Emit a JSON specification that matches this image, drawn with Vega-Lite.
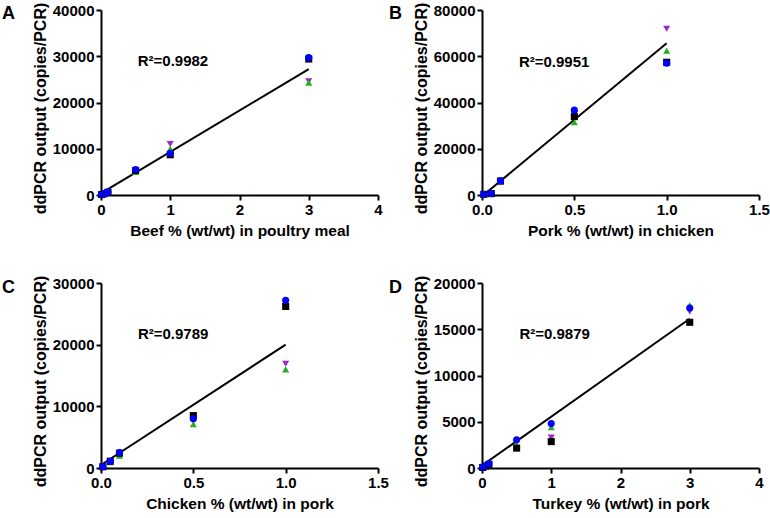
{
  "$schema": "https://vega.github.io/schema/vega-lite/v6.json",
  "background": "white",
  "padding": {"left": 2, "top": 2, "right": 0, "bottom": 0},
  "config": {
    "font": "Liberation Sans",
    "view": {"stroke": null},
    "axis": {
      "grid": false, "labelFlush": false,
      "domainColor": "black", "domainWidth": 2,
      "tickColor": "black", "tickWidth": 2, "tickSize": 5,
      "labelFont": "Liberation Sans", "labelFontWeight": "bold", "labelFontSize": 15, "labelColor": "black", "labelPadding": 2,
      "titleFont": "Liberation Sans", "titleFontWeight": "bold", "titleColor": "black"
    },
    "axisX": {"titleFontSize": 15.5, "titlePadding": 6},
    "axisY": {"titleFontSize": 16, "titlePadding": 4, "titleY": 98},
    "title": {"font": "Liberation Sans", "fontSize": 18, "fontWeight": "bold", "color": "black", "anchor": "start", "frame": "group", "baseline": "alphabetic"}
  },
  "datasets": {
    "pts": [
      {"p": "A", "x": 0.01, "y": 90, "s": "S4"}, {"p": "A", "x": 0.01, "y": 90, "s": "S3"}, {"p": "A", "x": 0.01, "y": 90, "s": "S1"}, {"p": "A", "x": 0.01, "y": 90, "s": "S2"},
      {"p": "A", "x": 0.05, "y": 280, "s": "S4"}, {"p": "A", "x": 0.05, "y": 280, "s": "S3"}, {"p": "A", "x": 0.05, "y": 280, "s": "S1"}, {"p": "A", "x": 0.05, "y": 290, "s": "S2"},
      {"p": "A", "x": 0.1, "y": 580, "s": "S4"}, {"p": "A", "x": 0.1, "y": 560, "s": "S3"}, {"p": "A", "x": 0.1, "y": 600, "s": "S1"}, {"p": "A", "x": 0.1, "y": 620, "s": "S2"},
      {"p": "A", "x": 0.5, "y": 5200, "s": "S4"}, {"p": "A", "x": 0.5, "y": 5000, "s": "S3"}, {"p": "A", "x": 0.5, "y": 5300, "s": "S1"}, {"p": "A", "x": 0.5, "y": 5500, "s": "S2"},
      {"p": "A", "x": 1, "y": 11000, "s": "S4"}, {"p": "A", "x": 1, "y": 10000, "s": "S3"}, {"p": "A", "x": 1, "y": 8700, "s": "S1"}, {"p": "A", "x": 1, "y": 9000, "s": "S2"},
      {"p": "A", "x": 3, "y": 24600, "s": "S4"}, {"p": "A", "x": 3, "y": 24300, "s": "S3"}, {"p": "A", "x": 3, "y": 29400, "s": "S1"}, {"p": "A", "x": 3, "y": 29700, "s": "S2"},

      {"p": "B", "x": 0.01, "y": 300, "s": "S4"}, {"p": "B", "x": 0.01, "y": 300, "s": "S3"}, {"p": "B", "x": 0.01, "y": 300, "s": "S1"}, {"p": "B", "x": 0.01, "y": 300, "s": "S2"},
      {"p": "B", "x": 0.05, "y": 550, "s": "S4"}, {"p": "B", "x": 0.05, "y": 500, "s": "S3"}, {"p": "B", "x": 0.05, "y": 600, "s": "S1"}, {"p": "B", "x": 0.05, "y": 600, "s": "S2"},
      {"p": "B", "x": 0.1, "y": 6000, "s": "S4"}, {"p": "B", "x": 0.1, "y": 5900, "s": "S3"}, {"p": "B", "x": 0.1, "y": 6050, "s": "S1"}, {"p": "B", "x": 0.1, "y": 6100, "s": "S2"},
      {"p": "B", "x": 0.5, "y": 35000, "s": "S4"}, {"p": "B", "x": 0.5, "y": 31500, "s": "S3"}, {"p": "B", "x": 0.5, "y": 33900, "s": "S1"}, {"p": "B", "x": 0.5, "y": 36700, "s": "S2"},
      {"p": "B", "x": 1, "y": 71900, "s": "S4"}, {"p": "B", "x": 1, "y": 62400, "s": "S3"}, {"p": "B", "x": 1, "y": 57400, "s": "S1"}, {"p": "B", "x": 1, "y": 57000, "s": "S2"},

      {"p": "C", "x": 0.01, "y": 200, "s": "S4"}, {"p": "C", "x": 0.01, "y": 200, "s": "S3"}, {"p": "C", "x": 0.01, "y": 200, "s": "S1"}, {"p": "C", "x": 0.01, "y": 220, "s": "S2"},
      {"p": "C", "x": 0.05, "y": 1000, "s": "S4"}, {"p": "C", "x": 0.05, "y": 950, "s": "S3"}, {"p": "C", "x": 0.05, "y": 1100, "s": "S1"}, {"p": "C", "x": 0.05, "y": 1100, "s": "S2"},
      {"p": "C", "x": 0.1, "y": 2100, "s": "S4"}, {"p": "C", "x": 0.1, "y": 2000, "s": "S3"}, {"p": "C", "x": 0.1, "y": 2400, "s": "S1"}, {"p": "C", "x": 0.1, "y": 2500, "s": "S2"},
      {"p": "C", "x": 0.5, "y": 7600, "s": "S4"}, {"p": "C", "x": 0.5, "y": 7100, "s": "S3"}, {"p": "C", "x": 0.5, "y": 8500, "s": "S1"}, {"p": "C", "x": 0.5, "y": 8000, "s": "S2"},
      {"p": "C", "x": 1, "y": 16900, "s": "S4"}, {"p": "C", "x": 1, "y": 16000, "s": "S3"}, {"p": "C", "x": 1, "y": 26200, "s": "S1"}, {"p": "C", "x": 1, "y": 27200, "s": "S2"},

      {"p": "D", "x": 0.01, "y": 60, "s": "S4"}, {"p": "D", "x": 0.01, "y": 60, "s": "S3"}, {"p": "D", "x": 0.01, "y": 60, "s": "S1"}, {"p": "D", "x": 0.01, "y": 70, "s": "S2"},
      {"p": "D", "x": 0.05, "y": 200, "s": "S4"}, {"p": "D", "x": 0.05, "y": 200, "s": "S3"}, {"p": "D", "x": 0.05, "y": 190, "s": "S1"}, {"p": "D", "x": 0.05, "y": 220, "s": "S2"},
      {"p": "D", "x": 0.1, "y": 430, "s": "S4"}, {"p": "D", "x": 0.1, "y": 420, "s": "S3"}, {"p": "D", "x": 0.1, "y": 400, "s": "S1"}, {"p": "D", "x": 0.1, "y": 460, "s": "S2"},
      {"p": "D", "x": 0.5, "y": 2800, "s": "S4"}, {"p": "D", "x": 0.5, "y": 2500, "s": "S3"}, {"p": "D", "x": 0.5, "y": 2150, "s": "S1"}, {"p": "D", "x": 0.5, "y": 3050, "s": "S2"},
      {"p": "D", "x": 1, "y": 3300, "s": "S4"}, {"p": "D", "x": 1, "y": 4400, "s": "S3"}, {"p": "D", "x": 1, "y": 2850, "s": "S1"}, {"p": "D", "x": 1, "y": 4800, "s": "S2"},
      {"p": "D", "x": 3, "y": 16900, "s": "S4"}, {"p": "D", "x": 3, "y": 17600, "s": "S3"}, {"p": "D", "x": 3, "y": 15750, "s": "S1"}, {"p": "D", "x": 3, "y": 17300, "s": "S2"}
    ],
    "fit": [
      {"p": "A", "x": 0.01, "y": 480}, {"p": "A", "x": 3, "y": 27200},
      {"p": "B", "x": 0.01, "y": 100}, {"p": "B", "x": 1, "y": 65600},
      {"p": "C", "x": 0.01, "y": 690}, {"p": "C", "x": 1, "y": 20000},
      {"p": "D", "x": 0.01, "y": 320}, {"p": "D", "x": 3, "y": 16140}
    ],
    "lab": [
      {"p": "A", "x": 0.53, "y": 28970, "t": "R²=0.9982"},
      {"p": "B", "x": 0.2, "y": 57640, "t": "R²=0.9951"},
      {"p": "C", "x": 0.2, "y": 21730, "t": "R²=0.9789"},
      {"p": "D", "x": 0.54, "y": 14490, "t": "R²=0.9879"}
    ]
  },
  "columns": 2,
  "spacing": {"row": 36, "column": 0},
  "resolve": {"scale": {"color": "shared", "shape": "shared"}},
  "concat": [
    {
      "title": {"text": "A", "dx": -99, "offset": -21},
      "width": 277, "height": 185,
      "layer": [
        {"data": {"name": "fit"}, "transform": [{"filter": "datum.p == 'A'"}], "mark": {"type": "line", "color": "black", "strokeWidth": 2},
         "encoding": {"x": {"field": "x", "type": "quantitative", "scale": {"domain": [0, 4], "nice": false}, "axis": {"values": [0, 1, 2, 3, 4], "format": "d", "title": "Beef % (wt/wt) in poultry meal"}},
                      "y": {"field": "y", "type": "quantitative", "scale": {"domain": [0, 40000], "nice": false}, "axis": {"values": [0, 10000, 20000, 30000, 40000], "format": "d", "title": "ddPCR output (copies/PCR)"}}}},
        {"data": {"name": "pts"}, "transform": [{"filter": "datum.p == 'A'"}], "mark": {"type": "point", "filled": true, "size": 50, "opacity": 1},
         "encoding": {"x": {"field": "x", "type": "quantitative"}, "y": {"field": "y", "type": "quantitative"},
                      "color": {"field": "s", "type": "nominal", "scale": {"domain": ["S1", "S2", "S3", "S4"], "range": ["#000000", "#0000ff", "#22b022", "#9a2bcb"]}, "legend": null},
                      "shape": {"field": "s", "type": "nominal", "scale": {"domain": ["S1", "S2", "S3", "S4"], "range": ["square", "circle", "triangle-up", "triangle-down"]}, "legend": null}}},
        {"data": {"name": "lab"}, "transform": [{"filter": "datum.p == 'A'"}], "mark": {"type": "text", "align": "left", "baseline": "middle", "fontSize": 15, "fontWeight": "bold", "color": "black"},
         "encoding": {"x": {"field": "x", "type": "quantitative"}, "y": {"field": "y", "type": "quantitative"}, "text": {"field": "t"}}}
      ]
    },
    {
      "title": {"text": "B", "dx": -93, "offset": -21},
      "width": 277, "height": 185,
      "layer": [
        {"data": {"name": "fit"}, "transform": [{"filter": "datum.p == 'B'"}], "mark": {"type": "line", "color": "black", "strokeWidth": 2},
         "encoding": {"x": {"field": "x", "type": "quantitative", "scale": {"domain": [0, 1.5], "nice": false}, "axis": {"values": [0, 0.5, 1, 1.5], "format": ".1f", "title": "Pork % (wt/wt) in chicken"}},
                      "y": {"field": "y", "type": "quantitative", "scale": {"domain": [0, 80000], "nice": false}, "axis": {"values": [0, 20000, 40000, 60000, 80000], "format": "d", "title": "ddPCR output (copies/PCR)"}}}},
        {"data": {"name": "pts"}, "transform": [{"filter": "datum.p == 'B'"}], "mark": {"type": "point", "filled": true, "size": 50, "opacity": 1},
         "encoding": {"x": {"field": "x", "type": "quantitative"}, "y": {"field": "y", "type": "quantitative"},
                      "color": {"field": "s", "type": "nominal", "scale": {"domain": ["S1", "S2", "S3", "S4"], "range": ["#000000", "#0000ff", "#22b022", "#9a2bcb"]}, "legend": null},
                      "shape": {"field": "s", "type": "nominal", "scale": {"domain": ["S1", "S2", "S3", "S4"], "range": ["square", "circle", "triangle-up", "triangle-down"]}, "legend": null}}},
        {"data": {"name": "lab"}, "transform": [{"filter": "datum.p == 'B'"}], "mark": {"type": "text", "align": "left", "baseline": "middle", "fontSize": 15, "fontWeight": "bold", "color": "black"},
         "encoding": {"x": {"field": "x", "type": "quantitative"}, "y": {"field": "y", "type": "quantitative"}, "text": {"field": "t"}}}
      ]
    },
    {
      "title": {"text": "C", "dx": -99, "offset": -22},
      "width": 277, "height": 185,
      "layer": [
        {"data": {"name": "fit"}, "transform": [{"filter": "datum.p == 'C'"}], "mark": {"type": "line", "color": "black", "strokeWidth": 2},
         "encoding": {"x": {"field": "x", "type": "quantitative", "scale": {"domain": [0, 1.5], "nice": false}, "axis": {"values": [0, 0.5, 1, 1.5], "format": ".1f", "title": "Chicken % (wt/wt) in pork"}},
                      "y": {"field": "y", "type": "quantitative", "scale": {"domain": [0, 30000], "nice": false}, "axis": {"values": [0, 10000, 20000, 30000], "format": "d", "title": "ddPCR output (copies/PCR)"}}}},
        {"data": {"name": "pts"}, "transform": [{"filter": "datum.p == 'C'"}], "mark": {"type": "point", "filled": true, "size": 50, "opacity": 1},
         "encoding": {"x": {"field": "x", "type": "quantitative"}, "y": {"field": "y", "type": "quantitative"},
                      "color": {"field": "s", "type": "nominal", "scale": {"domain": ["S1", "S2", "S3", "S4"], "range": ["#000000", "#0000ff", "#22b022", "#9a2bcb"]}, "legend": null},
                      "shape": {"field": "s", "type": "nominal", "scale": {"domain": ["S1", "S2", "S3", "S4"], "range": ["square", "circle", "triangle-up", "triangle-down"]}, "legend": null}}},
        {"data": {"name": "lab"}, "transform": [{"filter": "datum.p == 'C'"}], "mark": {"type": "text", "align": "left", "baseline": "middle", "fontSize": 15, "fontWeight": "bold", "color": "black"},
         "encoding": {"x": {"field": "x", "type": "quantitative"}, "y": {"field": "y", "type": "quantitative"}, "text": {"field": "t"}}}
      ]
    },
    {
      "title": {"text": "D", "dx": -93, "offset": -22},
      "width": 277, "height": 185,
      "layer": [
        {"data": {"name": "fit"}, "transform": [{"filter": "datum.p == 'D'"}], "mark": {"type": "line", "color": "black", "strokeWidth": 2},
         "encoding": {"x": {"field": "x", "type": "quantitative", "scale": {"domain": [0, 4], "nice": false}, "axis": {"values": [0, 1, 2, 3, 4], "format": "d", "title": "Turkey % (wt/wt) in pork"}},
                      "y": {"field": "y", "type": "quantitative", "scale": {"domain": [0, 20000], "nice": false}, "axis": {"values": [0, 5000, 10000, 15000, 20000], "format": "d", "title": "ddPCR output (copies/PCR)"}}}},
        {"data": {"name": "pts"}, "transform": [{"filter": "datum.p == 'D'"}], "mark": {"type": "point", "filled": true, "size": 50, "opacity": 1},
         "encoding": {"x": {"field": "x", "type": "quantitative"}, "y": {"field": "y", "type": "quantitative"},
                      "color": {"field": "s", "type": "nominal", "scale": {"domain": ["S1", "S2", "S3", "S4"], "range": ["#000000", "#0000ff", "#22b022", "#9a2bcb"]}, "legend": null},
                      "shape": {"field": "s", "type": "nominal", "scale": {"domain": ["S1", "S2", "S3", "S4"], "range": ["square", "circle", "triangle-up", "triangle-down"]}, "legend": null}}},
        {"data": {"name": "lab"}, "transform": [{"filter": "datum.p == 'D'"}], "mark": {"type": "text", "align": "left", "baseline": "middle", "fontSize": 15, "fontWeight": "bold", "color": "black"},
         "encoding": {"x": {"field": "x", "type": "quantitative"}, "y": {"field": "y", "type": "quantitative"}, "text": {"field": "t"}}}
      ]
    }
  ]
}
